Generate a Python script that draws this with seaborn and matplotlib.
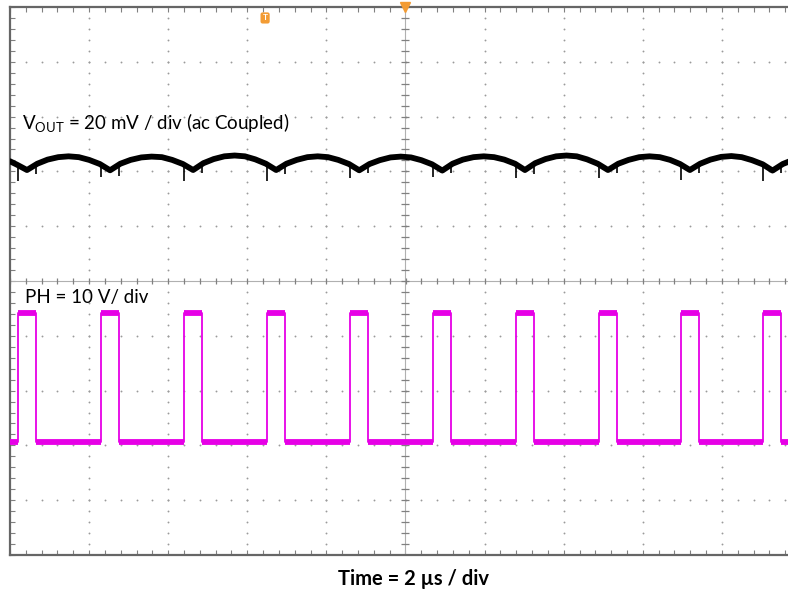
import numpy as np
import pandas as pd
import matplotlib
matplotlib.use('Agg')
import matplotlib.pyplot as plt
import seaborn as sns

# --- Basic styling ---
sns.set_theme(style='white')
plt.rcParams['font.family'] = ['Lato', 'DejaVu Sans']
plt.rcParams['mathtext.fontset'] = 'custom'
plt.rcParams['mathtext.rm'] = 'Lato'

# --- Scope settings ---
us_per_div = 2.0
vout_mv_per_div = 20.0
ph_v_per_div = 10.0
vout_offset_div = 2.15
ph_offset_div = -2.94

# --- PH switch node ---
ph_rise_us = [-9.80, -7.70, -5.60, -3.50, -1.40, 0.70, 2.79, 4.89, 6.96, 9.05]
ph_on_us = 0.45
ph_high_v = 23.6
ph_low_v = 0.0

# --- VOUT ripple (ac coupled) ---
vout_t_us = [-10.00, -9.83,
             -9.57, -9.31, -9.05, -8.78, -8.52, -8.26, -8.00, -7.73,
             -7.47, -7.21, -6.95, -6.68, -6.42, -6.16, -5.90, -5.63,
             -5.37, -5.11, -4.85, -4.58, -4.32, -4.06, -3.80, -3.53,
             -3.27, -3.01, -2.75, -2.48, -2.22, -1.96, -1.70, -1.43,
             -1.17, -0.91, -0.65, -0.38, -0.12, 0.14, 0.40, 0.67,
             0.93, 1.19, 1.45, 1.72, 1.98, 2.24, 2.50, 2.77,
             3.02, 3.28, 3.54, 3.81, 4.07, 4.33, 4.59, 4.86,
             5.12, 5.38, 5.64, 5.91, 6.17, 6.43, 6.69, 6.94,
             7.19, 7.45, 7.71, 7.98, 8.24, 8.50, 8.76, 9.03,
             9.28, 9.54, 9.80, 10.00]
vout_mv = [0.7, -0.5,
           -2.5, -0.2, 1.3, 2.2, 2.5, 2.2, 1.2, -0.3,
           -2.6, -0.2, 1.2, 2.1, 2.4, 2.2, 1.2, -0.3,
           -2.5, 0.0, 1.5, 2.5, 2.8, 2.5, 1.4, -0.2,
           -2.5, -0.2, 1.2, 2.2, 2.5, 2.2, 1.2, -0.3,
           -2.6, -0.3, 1.1, 2.1, 2.4, 2.1, 1.1, -0.4,
           -2.7, -0.2, 1.3, 2.2, 2.5, 2.2, 1.3, -0.2,
           -2.5, 0.0, 1.5, 2.5, 2.8, 2.5, 1.4, -0.2,
           -2.5, -0.2, 1.2, 2.2, 2.5, 2.2, 1.2, -0.3,
           -2.5, -0.2, 1.3, 2.3, 2.6, 2.2, 1.1, -0.4,
           -2.7, -0.3, 1.2, 2.0]

# switching spikes on VOUT
spike_rise_mv = [-6.5, -5.0, -6.5, -6.5, -5.5, -5.0, -5.5, -5.5, -6.0, -6.5]
spike_fall_mv = [-4.0, -4.5, -3.5, -4.0, -3.5, -3.5, -4.0, -3.5, -3.5, -3.5]

# --- Build traces ---
ph_t = [-10.0]
ph_v = [ph_low_v]
for r in ph_rise_us:
    ph_t += [r, r + ph_on_us]
    ph_v += [ph_high_v, ph_low_v]
ph_t.append(10.0)
ph_v.append(ph_low_v)

ph = pd.DataFrame({'t': ph_t, 'v': ph_v})
ph['div'] = ph['v'] / ph_v_per_div + ph_offset_div

vout = pd.DataFrame({'t': vout_t_us, 'mv': vout_mv})
vout['div'] = vout['mv'] / vout_mv_per_div + vout_offset_div

rise = np.array(ph_rise_us)
fall = rise + ph_on_us

# --- Figure ---
fig = plt.figure(figsize=(7.88, 5.92), dpi=100)
ax = fig.add_axes([10 / 788, 37 / 592, 791 / 788, 548 / 592])
ax.set_xlim(-5 * us_per_div, 5 * us_per_div)
ax.set_ylim(-5, 5)

# graticule dots
grid_col = '#9a9a9a'
minor_x = np.arange(-10, 10.01, us_per_div / 5)
minor_y = np.arange(-5, 5.01, 0.2)
for gx in np.arange(-8, 8.01, us_per_div):
    if abs(gx) > 1e-9:
        ax.scatter(np.full_like(minor_y, gx), minor_y, s=1.8, color=grid_col,
                   linewidths=0, zorder=1)
for gy in np.arange(-4, 4.01, 1):
    if abs(gy) > 1e-9:
        ax.scatter(minor_x, np.full_like(minor_x, gy), s=1.8, color=grid_col,
                   linewidths=0, zorder=1)

# centre cross with small ticks
ax.axhline(0, color='#b0b0b0', lw=0.8, zorder=1)
ax.axvline(0, color='#b0b0b0', lw=0.8, zorder=1)
ax.plot(minor_x, np.zeros_like(minor_x), ls='none', marker='|', ms=5,
        mew=0.9, color='#808080', zorder=1)
ax.plot(np.zeros_like(minor_y), minor_y, ls='none', marker='_', ms=6,
        mew=0.9, color='#808080', zorder=1)

# border ticks
ax.set_xticks(np.arange(-10, 10.01, us_per_div))
ax.set_yticks(np.arange(-5, 5.01, 1))
ax.set_xticks(minor_x, minor=True)
ax.set_yticks(minor_y, minor=True)
ax.tick_params(which='both', direction='in', length=3.5, width=0.8,
               color='#808080', top=True, bottom=True, left=True, right=True,
               labelbottom=False, labelleft=False)
for s in ax.spines.values():
    s.set_color('#666666')
    s.set_linewidth(1.6)

# --- Traces ---
mag = '#e600e6'
sns.lineplot(data=ph, x='t', y='div', ax=ax, color=mag, lw=1.3,
             drawstyle='steps-post', estimator=None, zorder=3)
high_div = ph_high_v / ph_v_per_div + ph_offset_div
low_div = ph_low_v / ph_v_per_div + ph_offset_div
ax.hlines(np.full(len(rise), high_div), rise, fall,
          color=mag, lw=4.2, zorder=3)
low_start = np.concatenate([[-10.0], fall])
low_end = np.concatenate([rise, [10.0]])
ax.hlines(np.full(len(low_start), low_div), low_start, low_end,
          color=mag, lw=4.2, zorder=3)

sns.lineplot(data=vout, x='t', y='div', ax=ax, color='black', lw=4.2,
             estimator=None, zorder=4)
spk_top = -1.5 / vout_mv_per_div + vout_offset_div
ax.vlines(rise, np.full(len(rise), spk_top),
          np.array(spike_rise_mv) / vout_mv_per_div + vout_offset_div,
          color='black', lw=1.2, zorder=4)
ax.vlines(fall, np.full(len(fall), spk_top),
          np.array(spike_fall_mv) / vout_mv_per_div + vout_offset_div,
          color='black', lw=1.2, zorder=4)

# trigger markers
ax.plot([0], [5], marker='v', ms=7, color='#f39c34', clip_on=False, zorder=6)
ax.text(-3.55, 4.80, 'T', color='white', fontsize=6, fontweight='bold',
        ha='center', va='center', zorder=6,
        bbox=dict(boxstyle='round,pad=0.25', fc='#f39c34', ec='none'))

# --- Labels ---
ax.text(-9.70, 2.755, r'V$_{\mathrm{OUT}}$ = 20 mV / div (ac Coupled)',
        fontsize=13.5, va='baseline', ha='left', color='black', zorder=5)
ax.text(-9.62, -0.40, 'PH = 10 V/ div', fontsize=13.5, va='baseline',
        ha='left', color='black', zorder=5)
ax.set_xlabel('')
ax.set_ylabel('')
fig.text(414 / 788, 7 / 592, 'Time = 2 µs / div', fontsize=14.5,
         fontweight='bold', ha='center', va='baseline', color='black')

fig.savefig('out.png', dpi=100)
